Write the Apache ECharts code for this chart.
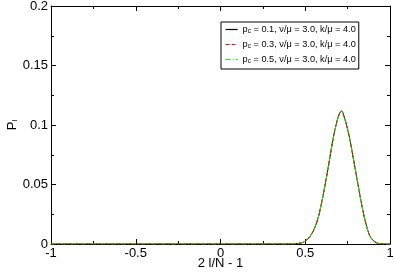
<!DOCTYPE html>
<html><head><meta charset="utf-8">
<script src="https://cdn.jsdelivr.net/npm/echarts@6/dist/echarts.min.js"></script>
<style>html,body{margin:0;padding:0;background:#fff}#c{width:394px;height:272px}</style>
</head><body><div id="c"></div>
<script>
var xs = [-1, 0.40, 0.44, 0.48, 0.50, 0.52, 0.54, 0.56, 0.58, 0.60, 0.62, 0.64, 0.66, 0.68, 0.70, 0.715, 0.72, 0.74, 0.76, 0.78, 0.80, 0.82, 0.84, 0.86, 0.88, 0.90, 0.92, 0.94, 0.96, 1.0];
var p01 = [0, 0, 0.0002, 0.001, 0.0025, 0.005, 0.009, 0.015, 0.024, 0.037, 0.052, 0.068, 0.085, 0.099, 0.109, 0.112, 0.111, 0.102, 0.090, 0.075, 0.059, 0.043, 0.028, 0.016, 0.007, 0.003, 0.001, 0.0003, 0, 0];
var p03 = [0, 0, 0.0002, 0.001, 0.0025, 0.005, 0.009, 0.015, 0.024, 0.037, 0.052, 0.068, 0.085, 0.099, 0.109, 0.112, 0.111, 0.102, 0.090, 0.075, 0.059, 0.043, 0.028, 0.016, 0.007, 0.003, 0.001, 0.0003, 0, 0];
var p05 = [0, 0, 0.0002, 0.001, 0.0025, 0.005, 0.009, 0.015, 0.024, 0.037, 0.052, 0.068, 0.085, 0.099, 0.109, 0.112, 0.111, 0.102, 0.090, 0.075, 0.059, 0.043, 0.028, 0.016, 0.007, 0.003, 0.001, 0.0003, 0, 0];
var names = ['pc0.1', 'pc0.3', 'pc0.5'];
var pcVals = ['0.1', '0.3', '0.5'];
var xTicks = ['-1', '-0.5', '0', '0.5', '1'];
var yTicks = ['0', '0.05', '0.1', '0.15', '0.2'];

function pts(ys){ return xs.map(function(x,i){ return [x, ys[i]]; }); }
var F = 'Liberation Sans, Arial, sans-serif';
var ch = echarts.init(document.getElementById('c'));
var tickIn = {show:true, inside:true, length:5, lineStyle:{color:'#000', width:1}};
var minorIn = {show:true, splitNumber:2, length:3, lineStyle:{color:'#000', width:1}};
var colors = ['#000000', '#ff0000', '#00ff00'];
var types = ['solid', [4,2], [5,2,1,2]];
var data = [p01, p03, p05];
ch.setOption({
  animation:false,
  grid:{left:51, right:4, top:6, bottom:28, outerBoundsMode:'none', containLabel:false},
  legend:{
    show:true,
    orient:'vertical', left:221, top:22, itemWidth:12, itemHeight:9, itemGap:5,
    padding:[3,3,4,4], borderColor:'#000', borderWidth:1, backgroundColor:'#fff',
    itemStyle:{opacity:0},
    textStyle:{fontFamily:F, fontSize:9.2, color:'#000', rich:{s:{fontSize:6.5, verticalAlign:'bottom', padding:[4,0,0,0], fontFamily:F}}},
    formatter:function(n){ return 'p{s|c} = ' + pcVals[names.indexOf(n)] + ', ν/μ = 3.0, k/μ = 4.0'; },
    data: names.map(function(n,i){ return {name:n, lineStyle:{color:colors[i], width:1.2, type:types[i], opacity:1}}; })
  },
  xAxis:[{
    type:'value', min:-1, max:1, interval:0.5,
    axisLine:{onZero:false, lineStyle:{color:'#000'}}, axisTick:tickIn, minorTick:minorIn,
    splitLine:{show:false},
    axisLabel:{fontFamily:F, fontSize:13, color:'#000', margin:3,
      formatter:function(v){ return xTicks[Math.round((v+1)/0.5)]; }},
    name:'2 l/N - 1', nameLocation:'middle', nameGap:13, nameMoveOverlap:false,
    nameTextStyle:{fontFamily:F, fontSize:13, color:'#000'}
  },{
    type:'value', min:-1, max:1, interval:0.5, position:'top',
    axisLine:{onZero:false, lineStyle:{color:'#000'}}, axisTick:tickIn, minorTick:minorIn,
    splitLine:{show:false}, axisLabel:{show:false}
  }],
  yAxis:[{
    type:'value', min:0, max:0.2, interval:0.05,
    axisLine:{show:true, onZero:false, lineStyle:{color:'#000'}}, axisTick:tickIn, minorTick:minorIn,
    splitLine:{show:false},
    axisLabel:{fontFamily:F, fontSize:13, color:'#000', margin:3,
      formatter:function(v){ return yTicks[Math.round(v/0.05)]; }},
    name:'{a|P}{b|l}', nameLocation:'middle', nameGap:32, nameRotate:90, nameMoveOverlap:false,
    nameTextStyle:{rich:{a:{fontFamily:F, fontSize:13, color:'#000'}, b:{fontFamily:F, fontSize:8, color:'#000', verticalAlign:'bottom', padding:[5,0,0,0]}}}
  },{
    type:'value', min:0, max:0.2, interval:0.05, position:'right',
    axisLine:{show:true, onZero:false, lineStyle:{color:'#000'}}, axisTick:tickIn, minorTick:minorIn,
    splitLine:{show:false}, axisLabel:{show:false}
  }],
  series: names.map(function(n,i){
    return {name:n, type:'line', xAxisIndex:0, yAxisIndex:0, showSymbol:false, symbol:'none',
      smooth:0.3, data:pts(data[i]), color:colors[i],
      lineStyle:{color:colors[i], width:1, type:types[i]}};
  })
});
</script></body></html>
